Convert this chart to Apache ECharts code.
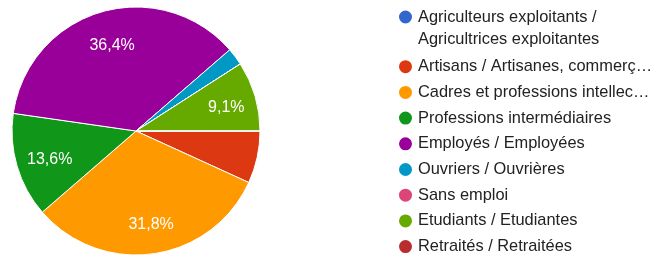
<!DOCTYPE html>
<html>
<head>
<meta charset="utf-8">
<script src="https://cdn.jsdelivr.net/npm/echarts@6/dist/echarts.min.js"></script>
<style>
  html, body { margin: 0; padding: 0; background: #fff; }
  #chart { width: 656px; height: 259px; }
</style>
</head>
<body>
<div id="chart"></div>
<script>
// categories as shown in the legend (full names, the legend truncates them)
const categories = [
  'Agriculteurs exploitants / Agricultrices exploitantes',
  'Artisans / Artisanes, commerçants / commerçantes et chefs d\'entreprise',
  'Cadres et professions intellectuelles supérieures',
  'Professions intermédiaires',
  'Employés / Employées',
  'Ouvriers / Ouvrières',
  'Sans emploi',
  'Etudiants / Etudiantes',
  'Retraités / Retraitées'
];
// number of answers (44 in total)
const counts = [0, 3, 14, 6, 16, 1, 0, 4, 0];
const colors = ['#3366cc', '#dc3912', '#ff9900', '#109618', '#990099',
                '#0099c6', '#dd4477', '#66aa00', '#b82e2e'];

const chart = echarts.init(document.getElementById('chart'));

const pieData = categories.map((name, i) => ({
  name: name,
  value: counts[i],
  itemStyle: { color: colors[i] }
}));

const fmtPct = p => p.toFixed(1).replace('.', ',') + '%';

chart.setOption({
  animation: false,
  legend: {
    orient: 'vertical',
    left: 392,
    top: -21,
    icon: 'circle',
    itemWidth: 15,
    itemHeight: 15,
    itemGap: 7.7,
    selectedMode: false,
    textStyle: {
      fontFamily: 'Liberation Sans, Arial, sans-serif',
      fontSize: 16.4,
      color: '#222',
      lineHeight: 18,
      width: 235.7,
      overflow: 'truncate',
      ellipsis: '…'
    },
    data: categories.map((name, i) => i === 0
      ? { name: name, textStyle: { lineHeight: 22 } }
      : { name: name }),
    // first entry wraps on two lines, the empty line keeps the dot on line one
    formatter: name => name === categories[0]
      ? '\nAgriculteurs exploitants /\nAgricultrices exploitantes'
      : name
  },
  series: [
    {
      type: 'pie',
      center: [136, 131],
      radius: [0, 124],
      startAngle: 0,
      clockwise: true,
      data: pieData,
      itemStyle: { borderColor: '#fff', borderWidth: 1 },
      label: { show: false },
      labelLine: { show: false },
      emphasis: { disabled: true }
    },
    {
      // same slices, transparent, only used to place the percentage labels
      type: 'pie',
      center: [138, 134],
      radius: [54, 124],
      startAngle: 0,
      clockwise: true,
      silent: true,
      data: categories.map((name, i) => ({ name: name, value: counts[i] })),
      itemStyle: { color: 'rgba(0,0,0,0)', borderWidth: 0 },
      label: {
        show: true,
        position: 'inside',
        color: '#fff',
        fontFamily: 'Liberation Sans, Arial, sans-serif',
        fontSize: 16,
        formatter: p => p.percent >= 9 ? fmtPct(p.percent) : ''
      },
      labelLine: { show: false },
      emphasis: { disabled: true }
    }
  ]
});
</script>
</body>
</html>
